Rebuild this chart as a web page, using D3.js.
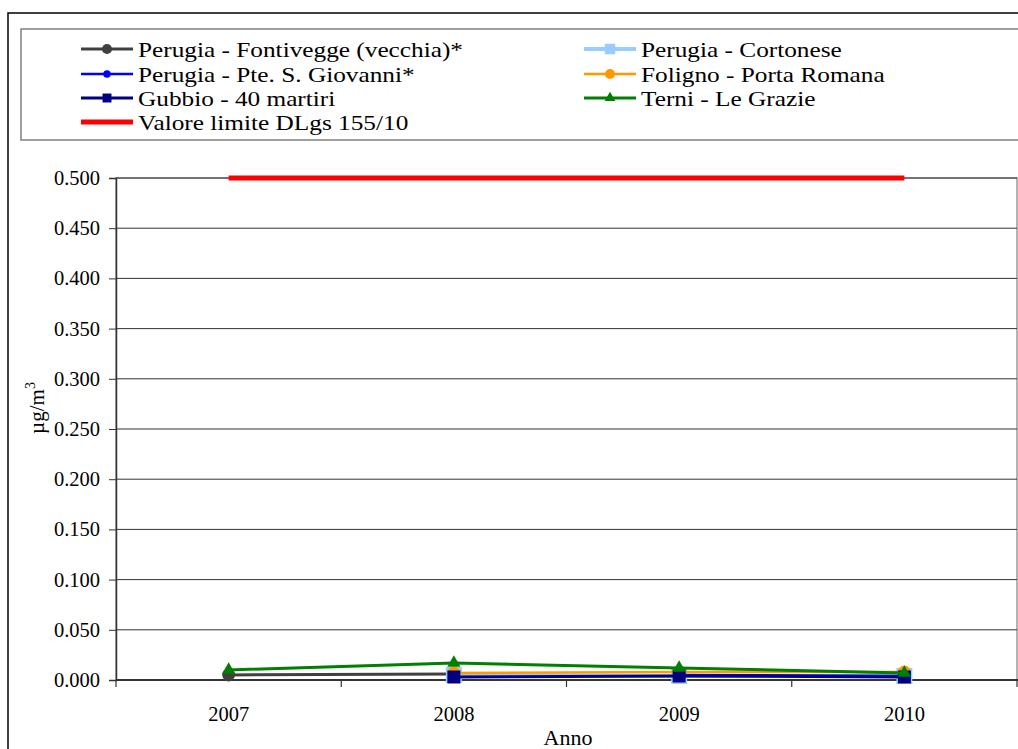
<!DOCTYPE html>
<html>
<head>
<meta charset="utf-8">
<script src="https://cdn.jsdelivr.net/npm/d3@7"></script>
<style>
html,body{margin:0;padding:0;background:#fff;overflow:hidden;}
svg{display:block;}
svg text{font-family:"Liberation Serif","Times New Roman","DejaVu Serif",serif !important;}
</style>
</head>
<body>
<svg id="chart" width="1018" height="749"></svg>
<script>
// ---- data ----
const years = ["2007", "2008", "2009", "2010"];
const seriesNames = [
  "Perugia - Fontivegge (vecchia)*",
  "Perugia - Cortonese",
  "Perugia - Pte. S. Giovanni*",
  "Foligno - Porta Romana",
  "Gubbio - 40 martiri",
  "Terni - Le Grazie",
  "Valore limite DLgs 155/10"
];
const fontivegge = [0.005, 0.006, null, null];
const cortonese  = [null, 0.005, 0.004, 0.004];
const pteSGiovanni = [null, null, 0.005, 0.004];
const foligno    = [null, 0.007, 0.008, 0.008];
const gubbio     = [null, 0.003, 0.004, 0.003];
const terni      = [0.010, 0.017, 0.012, 0.007];
const limite     = [0.5, 0.5, 0.5, 0.5];
const yTickValues = [0, 0.05, 0.1, 0.15, 0.2, 0.25, 0.3, 0.35, 0.4, 0.45, 0.5];
const yTitle = "µg/m";
const yTitleSup = "3";
const xTitle = "Anno";

// ---- styles ----
const styles = [
  {color:"#404040", width:3,   shape:d3.symbolCircle,   size:130, lsize:80},
  {color:"#99ccff", width:4,   shape:d3.symbolSquare,   size:256, lsize:110},
  {color:"#0000ff", width:2.5, shape:d3.symbolCircle,   size:50,  lsize:45},
  {color:"#ff9900", width:2.5, shape:d3.symbolCircle,   size:130, lsize:80},
  {color:"#000080", width:3,   shape:d3.symbolSquare,   size:169, lsize:80},
  {color:"#008000", width:3,   shape:d3.symbolTriangle, size:75,  lsize:50},
  {color:"#ff0000", width:5,   shape:null,              size:0,   lsize:0}
];
const allSeries = [fontivegge, cortonese, pteSGiovanni, foligno, gubbio, terni, limite];

const svg = d3.select("#chart");

// outer chart border
svg.append("rect").attr("x", 8).attr("y", 13).attr("width", 1100).attr("height", 800)
  .attr("fill", "#fff").attr("stroke", "#000").attr("stroke-width", 1.5);

// legend
const lg = svg.append("g");
lg.append("rect").attr("x", 21).attr("y", 29).attr("width", 1100).attr("height", 111)
  .attr("fill", "#fff").attr("stroke", "#808080").attr("stroke-width", 1.5);
const legendCols = [81, 584];
const legendRows = [49, 74, 98, 122];
seriesNames.forEach((name, i) => {
  const col = i % 2, row = Math.floor(i / 2);
  const x0 = legendCols[col], y0 = legendRows[row];
  const s = styles[i];
  lg.append("line").attr("x1", x0).attr("x2", x0 + 52).attr("y1", y0).attr("y2", y0)
    .attr("stroke", s.color).attr("stroke-width", s.width);
  if (s.shape) {
    lg.append("path").attr("d", d3.symbol().type(s.shape).size(s.lsize)())
      .attr("transform", `translate(${x0 + 26},${y0})`).attr("fill", s.color);
  }
  lg.append("text").attr("transform", `translate(${x0 + 57},${y0 + 7.5}) scale(1.15,1)`)
    .attr("font-size", 22).attr("fill", "#000").text(name);
});

// plot area
const pLeft = 116, pRight = 1017, pTop = 178, pBottom = 680;
const x = d3.scaleBand().domain(years).range([pLeft, pRight]).paddingInner(0).paddingOuter(0);
const y = d3.scaleLinear().domain([0, 0.5]).range([pBottom, pTop]);

// plot border (grey)
svg.append("rect").attr("x", pLeft).attr("y", pTop).attr("width", pRight - pLeft).attr("height", pBottom - pTop)
  .attr("fill", "none").attr("stroke", "#9a9a9a").attr("stroke-width", 1.5);

// gridlines
svg.append("g").selectAll("line").data(yTickValues.filter(v => v > 0)).join("line")
  .attr("x1", pLeft).attr("x2", pRight).attr("y1", d => y(d)).attr("y2", d => y(d))
  .attr("stroke", "#333").attr("stroke-width", 1);

// y axis
const yAxis = d3.axisLeft(y).tickValues(yTickValues).tickFormat(d3.format(".3f")).tickSize(7).tickPadding(9);
const gy = svg.append("g").attr("transform", `translate(${pLeft},0)`).call(yAxis);
gy.attr("font-family", null);
gy.select(".domain").attr("stroke", "#333").attr("stroke-width", 1.5);
gy.selectAll(".tick line").attr("stroke", "#333");
gy.selectAll(".tick text").attr("font-size", 20.5).attr("fill", "#000");

// x axis
const xAxis = d3.axisBottom(x).tickSize(0).tickPadding(26);
const gx = svg.append("g").attr("transform", `translate(0,${pBottom})`).call(xAxis);
gx.attr("font-family", null);
gx.select(".domain").remove();
gx.selectAll(".tick text").attr("font-size", 20.5).attr("fill", "#000");
// boundary tick marks
const bounds = years.map(d => x(d)).concat([x(years[years.length - 1]) + x.bandwidth()]);
svg.append("g").selectAll("line").data(bounds).join("line")
  .attr("x1", d => d).attr("x2", d => d).attr("y1", pBottom).attr("y2", pBottom + 7)
  .attr("stroke", "#333").attr("stroke-width", 1.2);
svg.append("line").attr("x1", pLeft).attr("x2", 1018).attr("y1", pBottom).attr("y2", pBottom)
  .attr("stroke", "#333").attr("stroke-width", 2);

// axis titles
svg.append("text").attr("x", 568).attr("y", 745).attr("text-anchor", "middle")
  .attr("font-size", 22).text(xTitle);
const yt = svg.append("text").attr("transform", "translate(44,408) rotate(-90)")
  .attr("text-anchor", "middle").attr("font-size", 21);
yt.append("tspan").text(yTitle);
yt.append("tspan").attr("dy", -9).attr("font-size", 14).text(yTitleSup);

// series
const cx = d => x(d) + x.bandwidth() / 2;
allSeries.forEach((vals, i) => {
  const s = styles[i];
  const pts = years.map((yr, j) => ({yr, v: vals[j]}));
  const line = d3.line().defined(p => p.v !== null).x(p => cx(p.yr)).y(p => y(p.v));
  svg.append("path").datum(pts).attr("d", line).attr("fill", "none")
    .attr("stroke", s.color).attr("stroke-width", s.width).attr("stroke-linejoin", "round");
  if (s.shape) {
    svg.append("g").selectAll("path").data(pts.filter(p => p.v !== null)).join("path")
      .attr("d", d3.symbol().type(s.shape).size(s.size)())
      .attr("transform", p => `translate(${cx(p.yr)},${y(p.v)})`)
      .attr("fill", s.color);
  }
});
</script>
</body>
</html>
